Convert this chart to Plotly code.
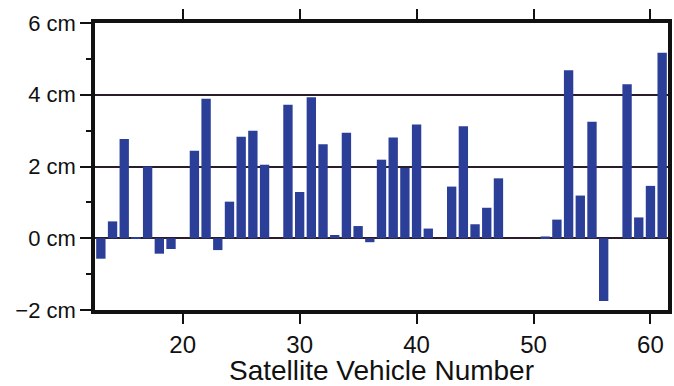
import plotly.graph_objects as go

# Per-satellite offsets (cm) by satellite vehicle number
sv_numbers = [13, 14, 15, 16, 17, 18, 19, 21, 22, 23, 24, 25, 26, 27,
              29, 30, 31, 32, 33, 34, 35, 36, 37, 38, 39, 40, 41,
              43, 44, 45, 46, 47, 51, 52, 53, 54, 55, 56, 58, 59, 60, 61]
offsets_cm = [-0.57, 0.47, 2.77, 0.02, 2.00, -0.43, -0.30, 2.44, 3.89, -0.33, 1.02, 2.83, 3.00, 2.05,
              3.72, 1.29, 3.93, 2.62, 0.09, 2.94, 0.34, -0.11, 2.19, 2.81, 1.96, 3.17, 0.27,
              1.44, 3.12, 0.39, 0.85, 1.67, 0.05, 0.52, 4.68, 1.19, 3.25, -1.75, 4.29, 0.58, 1.46, 5.17]

x_ticks = [20, 30, 40, 50, 60]
y_ticks = [-2, 0, 2, 4, 6]
y_tick_labels = ["\u22122 cm", "0 cm", "2 cm", "4 cm", "6 cm"]
y_minor_ticks = [-1, 1, 3, 5]

bar_color = "#2c3f98"
ink = "#111111"
grid_color = "#2a1c2a"

fig = go.Figure(
    go.Bar(
        x=sv_numbers,
        y=offsets_cm,
        width=0.8,
        marker=dict(color=bar_color, line=dict(width=0)),
        hoverinfo="x+y",
    )
)

fig.update_layout(
    width=674,
    height=386,
    margin=dict(l=95, r=2, t=23, b=75),
    paper_bgcolor="white",
    plot_bgcolor="white",
    showlegend=False,
    font=dict(family="Liberation Sans, Arial, sans-serif", color=ink, size=22),
)

fig.update_xaxes(
    range=[12.5, 61.5],
    tickvals=x_ticks,
    ticks="outside",
    ticklen=10,
    tickwidth=2,
    tickcolor=ink,
    showline=True,
    linewidth=3.5,
    linecolor=ink,
    mirror="ticks",
    showgrid=False,
    zeroline=False,
    tickfont=dict(size=24),
    title=dict(text="Satellite Vehicle Number", font=dict(size=28), standoff=7),
)

fig.update_yaxes(
    range=[-2, 6],
    tickvals=y_ticks,
    ticktext=y_tick_labels,
    ticks="outside",
    ticklen=11,
    tickwidth=2,
    tickcolor=ink,
    showline=True,
    linewidth=3.5,
    linecolor=ink,
    mirror=True,
    showgrid=True,
    gridcolor=grid_color,
    gridwidth=2,
    zeroline=True,
    zerolinecolor=grid_color,
    zerolinewidth=2,
    tickfont=dict(size=22),
    minor=dict(tickvals=y_minor_ticks, ticks="outside", ticklen=5, tickwidth=2,
               tickcolor=ink, showgrid=False),
)

fig.write_html("out.html")
